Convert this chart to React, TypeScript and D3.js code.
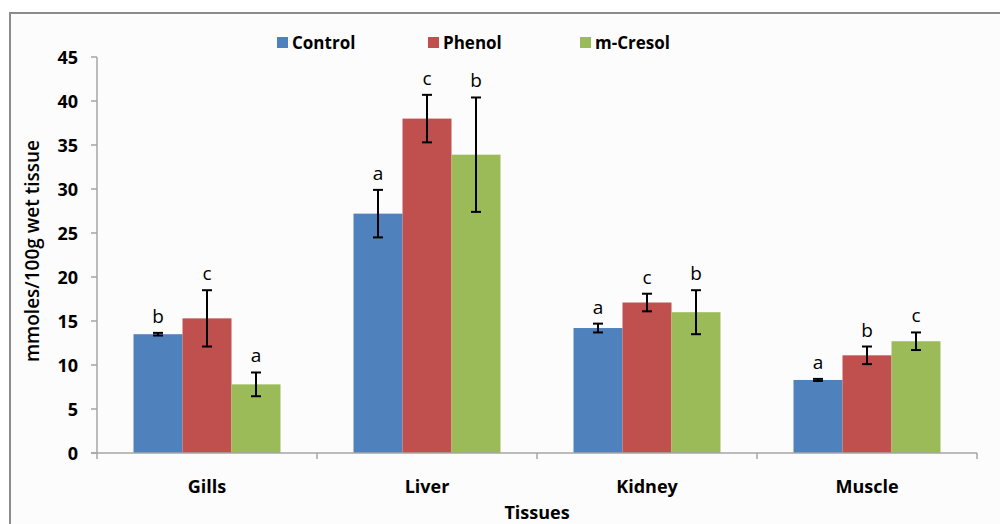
import React from "react";
import * as d3 from "d3";

const tissues = ["Gills", "Liver", "Kidney", "Muscle"];
const seriesNames = ["Control", "Phenol", "m-Cresol"];
const colors = ["#4f81bd", "#c0504d", "#9bbb59"];
const controlValues = [13.5, 27.2, 14.2, 8.3];
const phenolValues = [15.3, 38.0, 17.1, 11.1];
const cresolValues = [7.8, 33.9, 16.0, 12.7];
const controlErr = [0.15, 2.7, 0.5, 0.12];
const phenolErr = [3.2, 2.7, 1.0, 1.0];
const cresolErr = [1.35, 6.5, 2.5, 1.0];
const controlLetters = ["b", "a", "a", "a"];
const phenolLetters = ["c", "c", "c", "b"];
const cresolLetters = ["a", "b", "b", "c"];
const yTicks = [0, 5, 10, 15, 20, 25, 30, 35, 40, 45];

const values = [controlValues, phenolValues, cresolValues];
const errs = [controlErr, phenolErr, cresolErr];
const letters = [controlLetters, phenolLetters, cresolLetters];

export default function App() {
  const W = 1000, H = 524;
  const left = 97, right = 977, top = 57, bottom = 453;
  const x = d3.scaleBand<string>().domain(tissues).range([left, right]).paddingInner(0).paddingOuter(0);
  const groupW = x.bandwidth() * (147 / 220);
  const xs = d3.scaleBand<string>().domain(seriesNames).range([0, groupW]).padding(0);
  const y = d3.scaleLinear().domain([0, 45]).range([bottom, top]);
  const font = "'Open Sans', 'DejaVu Sans', sans-serif";
  const axisColor = "#a6a6a6";

  return (
    <svg width={W} height={H} style={{ position: "absolute", left: 0, top: 0, display: "block" }}>
      <rect x={0} y={0} width={W} height={H} fill="#ffffff" />
      <rect x={10} y={13} width={W + 20} height={H + 20} fill="#fcfcfc" stroke="#8c8c8c" strokeWidth={2} />
      {/* legend */}
      {seriesNames.map((s, i) => {
        const lx = [277, 428, 580][i];
        return (
          <g key={s}>
            <rect x={lx} y={37} width={11} height={11} fill={colors[i]} />
            <text x={lx + 15} y={49} fontFamily={font} fontWeight="bold" fontSize={17} fill="#000">{s}</text>
          </g>
        );
      })}
      {/* y axis */}
      <line x1={left} x2={left} y1={top} y2={bottom} stroke={axisColor} strokeWidth={1.5} />
      {yTicks.map((t) => (
        <g key={t}>
          <line x1={left - 6} x2={left} y1={y(t)} y2={y(t)} stroke={axisColor} strokeWidth={1.5} />
          <text x={left - 19} y={y(t) + 6.5} textAnchor="end" fontFamily={font} fontWeight="bold" fontSize={18} fill="#000">{t}</text>
        </g>
      ))}
      <text transform={`translate(39,${(top + bottom) / 2 - 4}) rotate(-90)`} textAnchor="middle" fontFamily={font} fontWeight="600" fontSize={19} fill="#000">mmoles/100g wet tissue</text>
      {/* bars */}
      {tissues.map((t, ti) => {
        const gx = (x(t) as number) + (x.bandwidth() - groupW) / 2;
        return (
          <g key={t}>
            {seriesNames.map((s, si) => {
              const v = values[si][ti];
              const e = errs[si][ti];
              const bx = gx + (xs(s) as number);
              const cx = bx + xs.bandwidth() / 2;
              return (
                <g key={s}>
                  <rect x={bx} y={y(v)} width={xs.bandwidth()} height={bottom - y(v)} fill={colors[si]} />
                  <line x1={cx} x2={cx} y1={y(v + e)} y2={y(v - e)} stroke="#000" strokeWidth={2} />
                  <line x1={cx - 5} x2={cx + 5} y1={y(v + e)} y2={y(v + e)} stroke="#000" strokeWidth={2} />
                  <line x1={cx - 5} x2={cx + 5} y1={y(v - e)} y2={y(v - e)} stroke="#000" strokeWidth={2} />
                  <text x={cx} y={y(v + e) - 10} textAnchor="middle" fontFamily={font} fontSize={19} fill="#000">{letters[si][ti]}</text>
                </g>
              );
            })}
            <text x={(x(t) as number) + x.bandwidth() / 2} y={493} textAnchor="middle" fontFamily={font} fontWeight="bold" fontSize={18} fill="#000">{t}</text>
          </g>
        );
      })}
      {/* x axis */}
      <line x1={left - 6} x2={right} y1={bottom} y2={bottom} stroke={axisColor} strokeWidth={1.5} />
      {[...tissues.map((t) => x(t) as number), right].map((p, i) => (
        <line key={i} x1={p} x2={p} y1={bottom} y2={bottom + 6} stroke={axisColor} strokeWidth={1.5} />
      ))}
      <text x={537} y={519} textAnchor="middle" fontFamily={font} fontWeight="bold" fontSize={18} fill="#000">Tissues</text>
    </svg>
  );
}
